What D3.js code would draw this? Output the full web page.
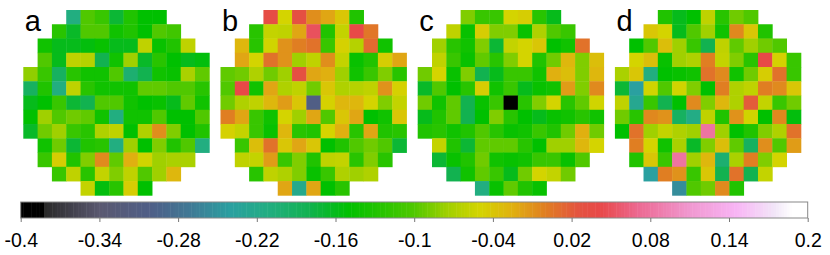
<!DOCTYPE html>
<html>
  <head>
    <style>
      body {
        margin: 0;
        background: #fff;
        font-family: "Liberation Sans", Arial, Helvetica, sans-serif;
      }
      .panel-label {
        font-size: 29px;
      }
      .cbar-axis text {
        font-size: 19.5px;
        font-family: "Liberation Sans", Arial, Helvetica, sans-serif;
      }
      .cbar-axis line {
        stroke: #777;
      }
    </style>
  </head>
  <body>
    <script src="https://d3js.org/d3.v7.min.js"></script>
    <script>
      // panels and the first column of each row inside the round mask
      const panels = ['a', 'b', 'c', 'd'];
      const rowStart = [3, 2, 1, 1, 0, 0, 0, 0, 0, 1, 1, 2, 4];

      const valuesA = [
        [-0.21, -0.10, -0.115, -0.17, -0.13, -0.15, -0.15],
        [-0.125, -0.165, -0.10, -0.10, -0.14, -0.13, -0.15, -0.10, -0.11],
        [-0.14, -0.16, -0.16, -0.155, -0.145, -0.16, -0.16, -0.06, -0.145, -0.13, -0.06],
        [-0.10, -0.16, -0.06, -0.065, -0.18, -0.14, -0.075, -0.165, -0.125, -0.15, -0.16, -0.155],
        [-0.08, -0.115, -0.19, -0.125, -0.14, -0.14, -0.10, -0.20, -0.18, -0.14, -0.145, -0.07, -0.095],
        [-0.19, -0.13, -0.21, -0.06, -0.125, -0.14, -0.14, -0.14, -0.095, -0.095, -0.10, -0.10, -0.125],
        [-0.16, -0.15, -0.115, -0.17, -0.18, -0.10, -0.10, -0.14, -0.15, -0.145, -0.16, -0.095, -0.14],
        [-0.15, -0.075, -0.10, -0.09, -0.095, -0.14, -0.21, -0.14, -0.14, -0.10, -0.15, -0.15, -0.10],
        [-0.165, -0.09, -0.075, -0.115, -0.125, -0.068, -0.06, -0.15, -0.068, -0.008, -0.085, -0.15, -0.13],
        [-0.14, -0.09, -0.17, -0.13, -0.125, -0.21, -0.075, -0.15, -0.085, -0.13, -0.10, -0.21],
        [-0.115, -0.045, -0.13, -0.085, -0.006, -0.095, -0.025, -0.052, -0.075, -0.07, -0.07],
        [-0.115, -0.06, -0.125, -0.058, -0.085, -0.06, -0.10, -0.075, -0.03],
        [-0.058, -0.155, -0.125, -0.045, -0.15]
      ];

      const valuesB = [
        [0.035, -0.05, 0.03, -0.008, -0.02, -0.04, -0.13],
        [-0.125, -0.058, -0.06, -0.02, 0.05, -0.13, -0.058, 0.04, 0.005],
        [-0.03, -0.125, -0.052, -0.01, 0.0, 0.007, -0.115, -0.048, -0.065, 0.012, -0.14],
        [-0.02, -0.05, 0.007, -0.01, -0.075, -0.06, -0.008, -0.058, -0.145, -0.13, -0.045, -0.02],
        [-0.095, -0.09, -0.068, -0.09, -0.075, 0.03, -0.02, -0.025, -0.075, -0.14, -0.115, -0.085, -0.125],
        [-0.10, 0.04, -0.14, -0.02, -0.068, -0.06, -0.09, -0.04, -0.068, -0.065, -0.06, -0.01, -0.048],
        [-0.09, -0.068, -0.06, -0.03, -0.015, -0.04, -0.305, -0.048, -0.03, -0.03, -0.05, -0.085, -0.058],
        [0.0, -0.02, -0.115, -0.14, -0.05, -0.075, -0.02, -0.10, -0.04, -0.02, -0.15, -0.14, -0.04],
        [-0.048, -0.058, -0.115, -0.145, -0.03, -0.125, -0.13, -0.05, -0.025, -0.125, -0.02, -0.13, -0.125],
        [-0.115, -0.035, 0.007, -0.04, -0.02, -0.04, -0.15, -0.13, -0.10, -0.09, -0.10, -0.17],
        [-0.06, -0.058, -0.015, -0.115, -0.085, -0.13, -0.06, -0.058, -0.125, -0.085, -0.125],
        [-0.125, -0.06, -0.068, -0.085, -0.145, -0.115, -0.068, -0.075, -0.068],
        [-0.02, -0.22, -0.02, -0.15, -0.125]
      ];

      const valuesC = [
        [-0.085, -0.115, -0.115, -0.05, -0.045, -0.125, -0.16],
        [-0.06, -0.145, -0.045, -0.085, -0.085, -0.145, -0.068, -0.10, -0.115],
        [-0.075, -0.125, -0.14, -0.085, -0.17, -0.058, -0.05, -0.04, -0.15, -0.14, 0.007],
        [-0.06, -0.115, -0.145, -0.095, -0.125, -0.085, -0.05, -0.13, -0.09, -0.03, -0.085, -0.035],
        [-0.09, -0.05, -0.145, -0.085, -0.18, -0.16, -0.115, -0.115, -0.14, -0.025, -0.035, -0.085, -0.03],
        [-0.165, -0.10, -0.15, -0.125, -0.045, -0.14, -0.115, -0.16, -0.145, -0.14, -0.015, -0.085, -0.006],
        [-0.09, -0.14, -0.095, -0.18, -0.145, -0.115, -0.39, -0.125, -0.085, -0.05, -0.125, -0.095, -0.052],
        [-0.16, -0.13, -0.095, -0.18, -0.15, -0.085, -0.125, -0.15, -0.16, -0.145, -0.14, -0.125, -0.14],
        [-0.13, -0.125, -0.14, -0.13, -0.10, -0.125, -0.145, -0.14, -0.115, -0.13, -0.09, -0.025, -0.09],
        [-0.058, -0.13, -0.17, -0.095, -0.095, -0.095, -0.125, -0.15, -0.075, -0.075, -0.03, -0.05],
        [-0.17, -0.145, -0.13, -0.09, -0.14, -0.145, -0.14, -0.115, -0.115, -0.145, -0.10],
        [-0.18, -0.14, -0.095, -0.115, -0.16, -0.09, -0.05, -0.058, -0.09],
        [-0.21, -0.145, -0.095, -0.13, -0.145]
      ];

      const valuesD = [
        [-0.13, -0.16, -0.15, -0.06, -0.125, -0.09, -0.10],
        [-0.04, -0.05, -0.16, -0.10, -0.075, -0.14, -0.005, -0.04, -0.13],
        [-0.15, -0.10, -0.035, -0.075, -0.115, -0.18, -0.06, -0.095, -0.075, -0.09, -0.10],
        [-0.05, -0.035, -0.145, -0.075, -0.068, 0.0, -0.058, -0.085, -0.125, 0.04, -0.048, -0.115],
        [-0.07, -0.04, -0.21, -0.15, -0.145, -0.14, 0.007, -0.006, -0.14, -0.09, -0.045, 0.007, -0.115],
        [-0.17, -0.24, -0.052, -0.10, -0.052, -0.085, -0.15, 0.0, -0.068, -0.06, 0.0, -0.006, -0.04],
        [-0.06, -0.225, -0.115, -0.18, -0.15, -0.006, -0.085, -0.03, -0.068, 0.02, -0.058, -0.115, -0.09],
        [-0.09, -0.125, -0.005, -0.01, -0.19, -0.215, -0.06, -0.13, -0.01, -0.052, -0.15, -0.005, -0.155],
        [-0.15, 0.007, -0.075, -0.058, -0.068, -0.075, 0.08, -0.075, -0.15, -0.13, -0.085, -0.068, 0.007],
        [0.0, -0.05, -0.14, -0.07, -0.165, -0.085, -0.035, -0.095, -0.19, -0.008, -0.10, -0.015],
        [-0.13, -0.04, -0.115, 0.08, -0.075, -0.03, -0.20, -0.07, 0.0, -0.085, -0.05],
        [-0.24, 0.0, -0.01, -0.115, -0.04, -0.18, 0.007, -0.18, -0.058],
        [-0.255, -0.10, -0.09, -0.006, -0.13]
      ];

      const tickValues = [-0.4, -0.34, -0.28, -0.22, -0.16, -0.1, -0.04, 0.02, 0.08, 0.14, 0.2];
      const tickLabels = ['-0.4', '-0.34', '-0.28', '-0.22', '-0.16', '-0.1', '-0.04', '0.02', '0.08', '0.14', '0.2'];

      // colour map stops (value -> colour)
      const stopValues = [-0.4, -0.383, -0.381, -0.34, -0.30, -0.27, -0.24, -0.21, -0.18, -0.15,
                          -0.10, -0.075, -0.05, -0.025, 0.0, 0.025, 0.042, 0.07, 0.11, 0.145, 0.175, 0.188, 0.2];
      const stopColors = ['#000000', '#000000', '#2a2a2a', '#5a5870', '#4f5f88', '#3f7a95', '#2aa0a0', '#22ae80',
                          '#12b250', '#00c000', '#50c800', '#a0d000', '#d4d400', '#e0b010', '#e07e22', '#e45440',
                          '#e84848', '#ec6890', '#f098d0', '#f8b4f4', '#f2e6f8', '#ffffff', '#ffffff'];

      const allValues = [valuesA, valuesB, valuesC, valuesD];

      const width = 830;
      const height = 255;

      const color = d3.scaleLinear()
        .domain(stopValues)
        .range(stopColors)
        .interpolate(d3.interpolateRgb)
        .clamp(true);

      const panelX = d3.scaleBand()
        .domain(panels)
        .range([23.3, 800.9])
        .paddingInner(0.0568);

      const nCells = 13;
      const col = d3.scaleBand()
        .domain(d3.range(nCells))
        .range([0, panelX.bandwidth()]);
      const row = d3.scaleBand()
        .domain(d3.range(nCells))
        .range([10, 195.3]);

      const svg = d3.select('body').append('svg')
        .attr('width', width)
        .attr('height', height);

      // flatten the cells of one panel
      function cellsOf(values) {
        const out = [];
        values.forEach((r, i) => {
          r.forEach((v, j) => {
            out.push({ row: i, col: rowStart[i] + j, value: v });
          });
        });
        return out;
      }

      const panelGroups = svg.selectAll('g.panel')
        .data(panels)
        .join('g')
        .attr('class', 'panel')
        .attr('transform', d => 'translate(' + panelX(d) + ',0)');

      panelGroups.selectAll('rect')
        .data((d, i) => cellsOf(allValues[i]))
        .join('rect')
        .attr('x', d => col(d.col))
        .attr('y', d => row(d.row))
        .attr('width', col.bandwidth() + 0.4)
        .attr('height', row.bandwidth() + 0.4)
        .attr('fill', d => color(d.value));

      panelGroups.append('text')
        .attr('class', 'panel-label')
        .attr('x', 1.5)
        .attr('y', 31)
        .text(d => d);

      // colour bar
      const x = d3.scaleLinear()
        .domain([tickValues[0], tickValues[tickValues.length - 1]])
        .range([20.7, 807.7]);

      const barTop = 202;
      const barH = 16;
      const step = 0.002;
      const barSteps = d3.range(x.domain()[0], x.domain()[1] - step / 2, step);

      const bar = svg.append('g').attr('class', 'cbar');
      bar.selectAll('rect')
        .data(barSteps)
        .join('rect')
        .attr('x', d => x(d))
        .attr('y', barTop)
        .attr('width', x(step) - x(0) + 0.5)
        .attr('height', barH)
        .attr('fill', d => color(d + step / 2));

      bar.append('rect')
        .attr('x', x.range()[0])
        .attr('y', barTop)
        .attr('width', x.range()[1] - x.range()[0])
        .attr('height', barH)
        .attr('fill', 'none')
        .attr('stroke', '#888')
        .attr('stroke-width', 1);

      const xAxis = d3.axisBottom(x)
        .tickValues(tickValues)
        .tickSize(4)
        .tickPadding(11.5)
        .tickFormat((d, i) => tickLabels[i]);

      svg.append('g')
        .attr('class', 'cbar-axis')
        .attr('transform', 'translate(0,' + (barTop + barH) + ')')
        .call(xAxis)
        .call(g => g.select('.domain').remove())
        .selectAll('text')
        .attr('fill', '#000');
    </script>
  </body>
</html>
